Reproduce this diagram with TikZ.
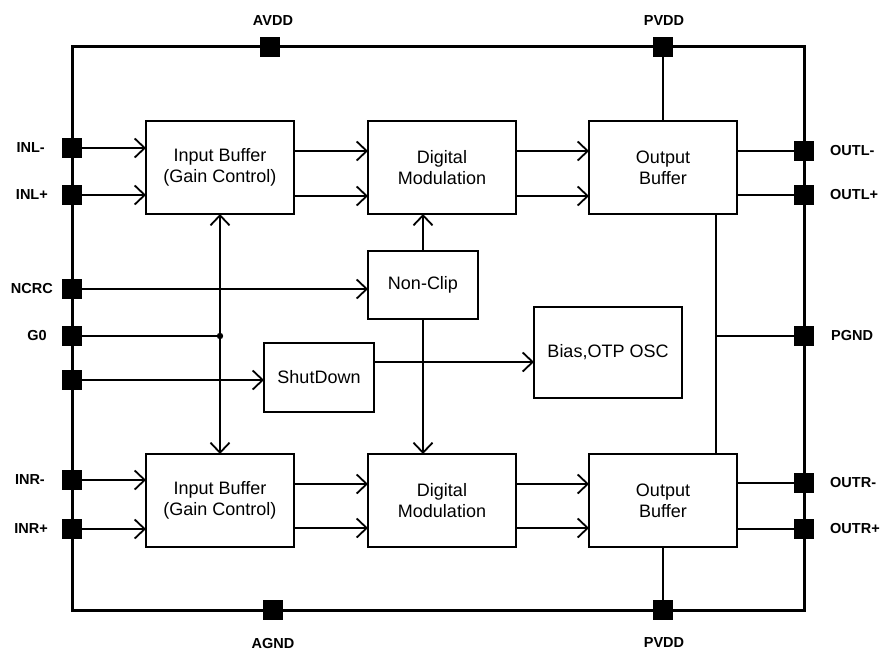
\documentclass[tikz,border=0pt]{standalone}
\usepackage{fontspec}
\setmainfont{Liberation Sans}
\usetikzlibrary{arrows.meta}
\begin{document}
\begin{tikzpicture}[x=1pt,y=-1pt,
  blk/.style={draw, line width=1.8pt, inner sep=0pt, outer sep=0pt, align=center,
              font=\fontsize{18}{21}\selectfont},
  pin/.style={fill=black, inner sep=0pt, outer sep=0pt, minimum size=20pt},
  plabel/.style={font=\bfseries\fontsize{14.5}{17}\selectfont, inner sep=0pt},
  wire/.style={line width=1.8pt},
  tipb/.tip={Straight Barb[length=10pt,width=19pt]},
  arr/.style={wire, -tipb},
  darr/.style={wire, tipb-tipb},
  chip/.style={line width=3pt}
]
\useasboundingbox (0,0) rectangle (882,650);

% chip outline
\draw[chip] (72,47) rectangle (804,610);

% blocks
\node[blk, minimum width=148pt, minimum height=93pt] (IBt) at (220,167.5) {Input Buffer\\(Gain Control)};
\node[blk, minimum width=148pt, minimum height=93pt] (DMt) at (442,167.5) {Digital\\Modulation};
\node[blk, minimum width=148pt, minimum height=93pt] (OBt) at (663,167.5) {Output\\Buffer};
\node[blk, minimum width=148pt, minimum height=93pt] (IBb) at (220,500.5) {Input Buffer\\(Gain Control)};
\node[blk, minimum width=148pt, minimum height=93pt] (DMb) at (442,500.5) {Digital\\Modulation};
\node[blk, minimum width=148pt, minimum height=93pt] (OBb) at (663,500.5) {Output\\Buffer};
\node[blk, minimum width=110pt, minimum height=68pt] (NC) at (423,285) {Non-Clip};
\node[blk, minimum width=110pt, minimum height=69pt] (SD) at (319,377.5) {ShutDown};
\node[blk, minimum width=148pt, minimum height=91pt] (BI) at (608,352.5) {Bias,OTP OSC};

% internal junction coordinates
\coordinate (gj) at (220,336);
\coordinate (pj) at (716,336);

% pins
\node[pin] (pAVDD) at (270,47) {};
\node[pin] (pPVDDt) at (663,47) {};
\node[pin] (pAGND) at (273,610) {};
\node[pin] (pPVDDb) at (663,610) {};
\node[pin] (pINLm) at (72,148) {};
\node[pin] (pINLp) at (72,195) {};
\node[pin] (pNCRC) at (72,289) {};
\node[pin] (pG0) at (72,336) {};
\node[pin] (pSD) at (72,380) {};
\node[pin] (pINRm) at (72,480) {};
\node[pin] (pINRp) at (72,529) {};
\node[pin] (pOUTLm) at (804,151) {};
\node[pin] (pOUTLp) at (804,195) {};
\node[pin] (pPGND) at (804,336) {};
\node[pin] (pOUTRm) at (804,483) {};
\node[pin] (pOUTRp) at (804,529) {};

% pin labels
\node[plabel] (lAVDD) at (273,21) {AVDD};
\node[plabel] (lPVDDt) at (664,21) {PVDD};
\node[plabel] (lAGND) at (273,643) {AGND};
\node[plabel] (lPVDDb) at (664,643) {PVDD};
\node[plabel, anchor=east] (lINLm) at (45,148) {INL-};
\node[plabel, anchor=east] (lINLp) at (48,195) {INL+};
\node[plabel, anchor=east] (lNCRC) at (53,289) {NCRC};
\node[plabel, anchor=east] (lG0) at (47,336) {G0};
\node[plabel, anchor=east] (lINRm) at (45,480) {INR-};
\node[plabel, anchor=east] (lINRp) at (48,529) {INR+};
\node[plabel, anchor=west] (lOUTLm) at (830,151) {OUTL-};
\node[plabel, anchor=west] (lOUTLp) at (830,195) {OUTL+};
\node[plabel, anchor=west] (lPGND) at (831,336) {PGND};
\node[plabel, anchor=west] (lOUTRm) at (830,483) {OUTR-};
\node[plabel, anchor=west] (lOUTRp) at (830,529) {OUTR+};

% inputs (top)
\draw[arr] (pINLm) -- (pINLm -| IBt.west);
\draw[arr] (pINLp) -- (pINLp -| IBt.west);
\draw[arr] ([yshift=16.5pt]IBt.east) -- ([yshift=16.5pt]DMt.west);
\draw[arr] ([yshift=-28.5pt]IBt.east) -- ([yshift=-28.5pt]DMt.west);
\draw[arr] ([yshift=16.5pt]DMt.east) -- ([yshift=16.5pt]OBt.west);
\draw[arr] ([yshift=-28.5pt]DMt.east) -- ([yshift=-28.5pt]OBt.west);
\draw[wire] (pOUTLm -| OBt.east) -- (pOUTLm);
\draw[wire] (pOUTLp -| OBt.east) -- (pOUTLp);

% inputs (bottom)
\draw[arr] (pINRm) -- (pINRm -| IBb.west);
\draw[arr] (pINRp) -- (pINRp -| IBb.west);
\draw[arr] ([yshift=16.5pt]IBb.east) -- ([yshift=16.5pt]DMb.west);
\draw[arr] ([yshift=-27.5pt]IBb.east) -- ([yshift=-27.5pt]DMb.west);
\draw[arr] ([yshift=16.5pt]DMb.east) -- ([yshift=16.5pt]OBb.west);
\draw[arr] ([yshift=-27.5pt]DMb.east) -- ([yshift=-27.5pt]OBb.west);
\draw[wire] (pOUTRm -| OBb.east) -- (pOUTRm);
\draw[wire] (pOUTRp -| OBb.east) -- (pOUTRp);

% gain control
\draw[darr] (IBt.south) -- (IBb.north);
\draw[wire] (pG0) -- (gj);
\fill (gj) circle (3.2pt);

% non-clip and shutdown
\draw[arr] (pNCRC) -- (pNCRC -| NC.west);
\draw[arr] (NC.north) -- (NC.north |- DMt.south);
\draw[arr] (NC.south) -- (NC.south |- DMb.north);
\draw[arr] (pSD) -- (pSD -| SD.west);
\draw[arr] ([yshift=15.5pt]SD.east) -- ([yshift=15.5pt]SD.east -| BI.west);

% power
\draw[wire] (pPVDDt) -- (OBt.north);
\draw[wire] (OBb.south) -- (pPVDDb);
\draw[wire] (OBt.south -| pj) -- (OBb.north -| pj);
\draw[wire] (pj) -- (pPGND);

% redraw pins on top
\foreach \p in {pAVDD,pPVDDt,pAGND,pPVDDb,pINLm,pINLp,pNCRC,pG0,pSD,pINRm,pINRp,pOUTLm,pOUTLp,pPGND,pOUTRm,pOUTRp}
  \fill (\p.south west) rectangle (\p.north east);
\end{tikzpicture}
\end{document}
